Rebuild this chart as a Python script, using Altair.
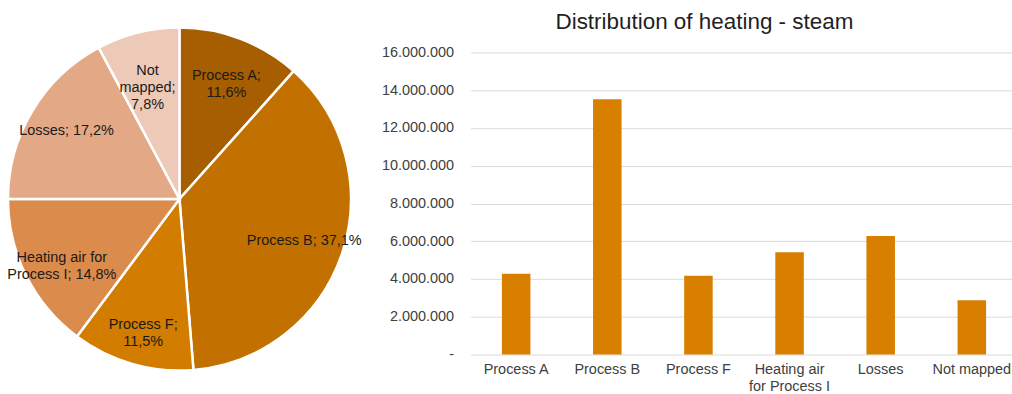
import altair as alt
import pandas as pd

# ---- data -------------------------------------------------------------
categories = ["Process A", "Process B", "Process F",
              "Heating air for Process I", "Losses", "Not mapped"]
bar_values = [4280000, 13520000, 4170000, 5420000, 6280000, 2880000]
pie_pct = [11.6, 37.1, 11.5, 14.8, 17.2, 7.8]
pie_labels = ["Process A;\n11,6%", "Process B; 37,1%", "Process F;\n11,5%",
              "Heating air for\nProcess I; 14,8%", "Losses; 17,2%",
              "Not\nmapped;\n7,8%"]
pie_colors = ["#A65E00", "#C27100", "#D27C00", "#DB8B4B", "#E3A987", "#EDCAB8"]
bar_color = "#D97F00"
y_ticks = [0, 2000000, 4000000, 6000000, 8000000, 10000000,
           12000000, 14000000, 16000000]

FONT = "Liberation Sans"

pie_df = pd.DataFrame({
    "category": categories,
    "pct": pie_pct,
    "label": pie_labels,
    "idx": list(range(len(categories))),
})
bar_df = pd.DataFrame({"category": categories, "value": bar_values})

# ---- pie ----------------------------------------------------------------
base_pie = alt.Chart(pie_df).encode(
    theta=alt.Theta("pct:Q", stack=True),
    order=alt.Order("idx:Q"),
    x=alt.value(180),
    y=alt.value(147),
)
arcs = base_pie.mark_arc(outerRadius=172, stroke="white", strokeWidth=2.5).encode(
    color=alt.Color("category:N", scale=alt.Scale(domain=categories, range=pie_colors),
                    legend=None)
)
pie_text = base_pie.mark_text(
    radius=132, lineBreak="\n", align="center", baseline="middle",
    font=FONT, fontSize=14.5, color="#1a1a1a", lineHeight=17,
).encode(text="label:N")
pie = alt.layer(arcs, pie_text).properties(width=360, height=303)

# ---- bar ----------------------------------------------------------------
bars = alt.Chart(bar_df).mark_bar(color=bar_color).encode(
    x=alt.X("category:N", sort=categories, title=None,
            scale=alt.Scale(paddingInner=0.687, paddingOuter=0.314, align=0.547),
            axis=alt.Axis(labelAngle=0, domain=False, ticks=False, labelPadding=8,
                          labelFont=FONT, labelFontSize=14.5, labelColor="#404040",
                          labelLineHeight=17, minExtent=38, maxExtent=38,
                          labelExpr="datum.label == 'Heating air for Process I' ? ['Heating air', 'for Process I'] : datum.label")),
    y=alt.Y("value:Q", title=None,
            scale=alt.Scale(domain=[0, 16000000], nice=False),
            axis=alt.Axis(values=y_ticks, format=",.0f", domain=False, ticks=False,
                          labelPadding=17, labelFont=FONT, labelFontSize=14.5,
                          labelColor="#404040", gridColor="#D9D9D9", gridWidth=1,
                          minExtent=90, maxExtent=90,
                          labelExpr="datum.value == 0 ? '-' : datum.label")),
).properties(
    width=543, height=303,
    title=alt.TitleParams(["", "Distribution of heating - steam"], font=FONT,
                          fontSize=22.5, fontWeight="normal", color="#1f1f1f",
                          anchor="middle", frame="group", dx=-37, offset=11.5,
                          lineHeight=10),
)

chart = alt.hconcat(pie, bars, spacing=19).properties(
    padding={"left": 0, "top": 0, "right": 0, "bottom": 0}
).configure(
    locale={"number": {"decimal": ",", "thousands": ".", "grouping": [3],
                       "currency": ["", " €"]}}
).configure_view(stroke=None)

chart.save("out.html", embed_options={"renderer": "svg", "actions": False})
